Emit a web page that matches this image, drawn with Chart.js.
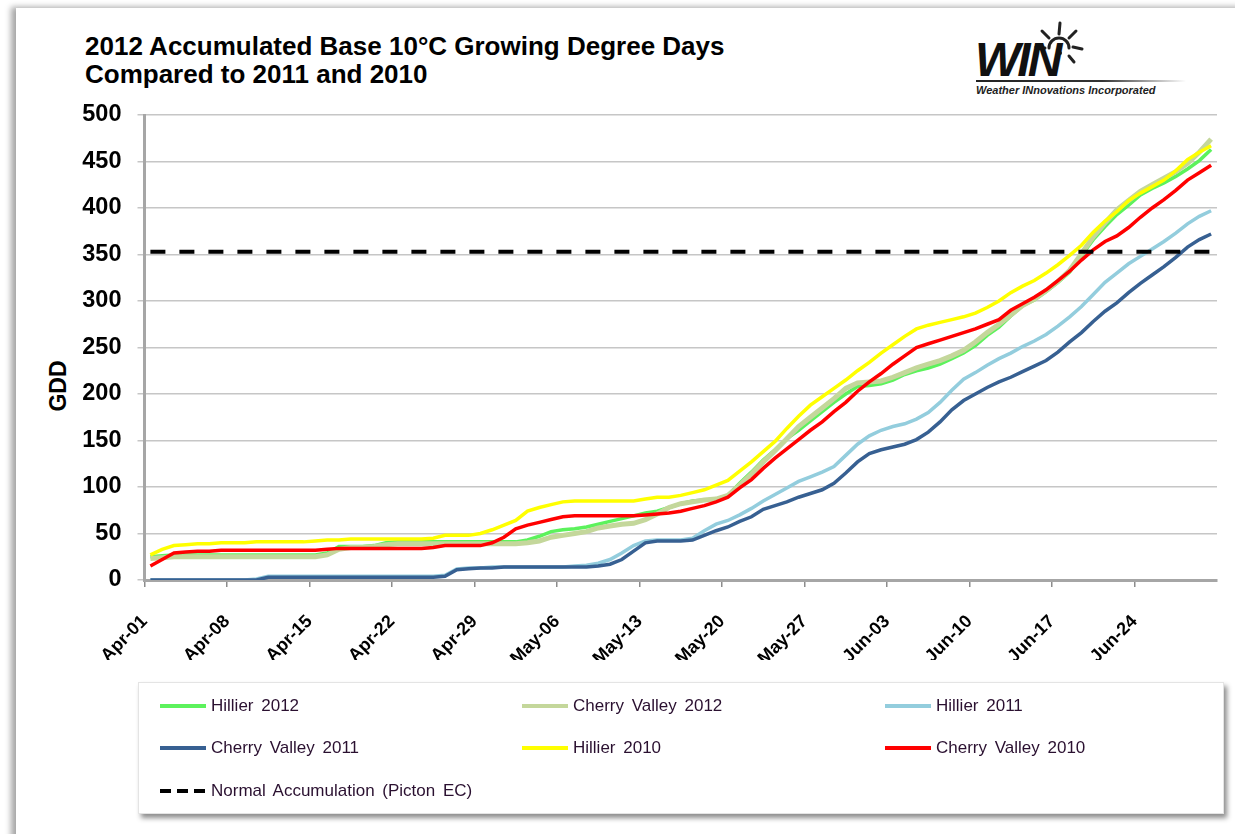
<!DOCTYPE html>
<html>
<head>
<meta charset="utf-8">
<script src="https://cdn.jsdelivr.net/npm/chart.js@4.4.0/dist/chart.umd.min.js"></script>
<style>
  html, body { margin: 0; padding: 0; background: #fff; }
  body { width: 1235px; height: 834px; position: relative; overflow: hidden;
         font-family: Arial, "Liberation Sans", sans-serif; }
  #frame { position: absolute; left: 16px; top: 8px; width: 1230px; height: 840px; background: #fff;
           box-shadow: -5px -1px 6px rgba(0,0,0,0.35); }
  #title { position: absolute; left: 85px; top: 32px; font-weight: bold; font-size: 26px;
           line-height: 28px; color: #000; }
  #gdd { position: absolute; left: 58px; top: 386px; font-weight: bold; font-size: 23px; color: #000;
         transform: translate(-50%, -50%) rotate(-90deg); }
  #wrap { position: absolute; left: 0; top: 0; width: 1235px; height: 700px; }
  #legend { position: absolute; left: 138px; top: 682px; width: 1084px; height: 130px; background: #fff;
            border: 1px solid #e4e4e4; box-shadow: 3px 4px 5px rgba(0,0,0,0.45); }
  .item { position: absolute; height: 20px; font-size: 17px; color: #2a1030; word-spacing: 3px;
          white-space: nowrap; }
  .item span.sw { position: absolute; left: 0; top: 8px; width: 46px; height: 4px; }
  .item span.tx { position: absolute; left: 51px; top: 0; line-height: 20px; }
  #logo { position: absolute; left: 970px; top: 14px; width: 230px; height: 90px; }
  #win { position: absolute; left: 5px; top: 22px; font: italic bold 48px Arial, sans-serif;
         letter-spacing: -3px; color: #111; line-height: 48px; }
  #rule { position: absolute; left: 6px; top: 66px; width: 210px; height: 2px;
          background: linear-gradient(to right, #222 0%, #333 60%, rgba(0,0,0,0) 100%); }
  #sub { position: absolute; left: 6px; top: 70px; font: italic bold 11px Arial, sans-serif; color: #222;
         white-space: nowrap; }
</style>
</head>
<body>
<div id="frame"></div>
<div id="title">2012 Accumulated Base 10°C Growing Degree Days<br>Compared to 2011 and 2010</div>
<div id="logo">
  <svg width="230" height="70" style="position:absolute;left:0;top:0">
    <g stroke="#222" stroke-width="3" stroke-linecap="round" fill="none">
      <path d="M 79 34 A 10 10 0 0 1 99 34" />
      <line x1="89" y1="20" x2="90" y2="9" />
      <line x1="79" y1="24" x2="72" y2="17" />
      <line x1="99" y1="24" x2="106" y2="17" />
      <line x1="75" y1="34" x2="66" y2="33" />
      <line x1="103" y1="33" x2="112" y2="35" />
      <line x1="99" y1="42" x2="104" y2="48" />
    </g>
    <circle cx="90" cy="39" r="2" fill="#222" />
  </svg>
  <div id="win">WIN</div>
  <div id="rule"></div>
  <div id="sub">Weather INnovations Incorporated</div>
</div>
<div id="gdd">GDD</div>
<div id="wrap"><canvas id="chart" width="1235" height="700"></canvas></div>
<div id="legend"></div>

<script>
// x axis: days from Apr-01, one label per day
const months = [['Apr', 30], ['May', 31], ['Jun', 30], ['Jul', 1]];
const dayLabels = [];
months.forEach(([m, n]) => {
  for (let d = 1; d <= n; d++) dayLabels.push(m + '-' + String(d).padStart(2, '0'));
});

// accumulated GDD, one value per day Apr-01 .. Jun-30
const hillier2012 = [
  25,26,27,27,27,27,27,27,27,27,27,27,27,27,27,
  29,36,36,36,37,40,41,41,41,41,41,41,41,41,41,41,41,
  43,47,52,54,55,57,60,63,66,69,72,74,78,82,85,86,87,91,
  104,116,129,140,152,161,171,181,191,200,208,209,211,215,
  221,225,228,232,238,244,252,263,272,284,295,301,310,320,331,349,
  366,380,393,403,414,421,427,434,442,451,463
];
const cherryValley2012 = [
  23,24,25,25,25,25,25,25,25,25,25,25,25,25,25,
  27,33,35,35,36,38,39,39,39,39,39,39,39,39,39,39,39,
  40,42,46,48,50,52,56,58,60,61,65,71,78,82,84,86,87,91,
  102,114,127,139,152,165,175,185,195,206,212,213,214,218,
  223,228,232,236,241,247,256,266,275,285,295,302,311,321,333,351,
  369,384,398,408,418,425,432,439,448,460,474
];
const hillier2011 = [
  0,0,0,0,0,0,0,0,0,1,4,4,4,4,4,
  4,4,4,4,4,4,4,4,4,4,5,12,13,13,14,14,14,
  14,14,14,14,15,16,18,22,29,37,42,43,43,43,45,53,60,64,
  70,77,85,92,99,106,111,116,122,134,146,155,161,165,
  168,173,180,191,204,216,223,231,238,244,251,257,264,273,283,294,
  307,320,330,340,348,356,364,373,383,391,397
];
const cherryValley2011 = [
  0,0,0,0,0,0,0,0,0,0,3,3,3,3,3,
  3,3,3,3,3,3,3,3,3,3,4,11,12,13,13,14,14,
  14,14,14,14,14,14,15,17,22,31,40,42,42,42,43,48,53,57,
  63,68,76,80,84,89,93,97,104,115,127,136,140,143,
  146,151,159,170,183,193,200,207,213,218,224,230,236,245,256,266,
  278,289,298,309,319,328,337,347,358,366,372
];
const hillier2010 = [
  27,33,37,38,39,39,40,40,40,41,41,41,41,41,42,
  43,43,44,44,44,44,44,44,44,45,48,48,48,50,54,59,64,
  74,78,81,84,85,85,85,85,85,85,87,89,89,91,94,97,102,107,
  117,127,138,149,163,176,188,197,206,215,225,234,244,253,
  262,270,274,277,280,283,287,293,300,309,316,322,330,339,349,360,
  374,386,396,408,416,423,430,440,452,460,467
];
const cherryValley2010 = [
  15,22,29,30,31,31,32,32,32,32,32,32,32,32,32,
  33,34,34,34,34,34,34,34,34,35,37,37,37,37,40,46,55,
  59,62,65,68,69,69,69,69,69,69,70,71,72,74,77,80,84,89,
  99,108,120,131,141,151,161,170,181,191,203,213,222,232,
  241,250,254,258,262,266,270,275,280,290,297,304,312,322,332,344,
  355,364,370,379,390,400,409,419,430,438,446
];
const normalAccumulation = 353;

const seriesNames  = ['Hillier 2012', 'Cherry Valley 2012', 'Hillier 2011',
                      'Cherry Valley 2011', 'Hillier 2010', 'Cherry Valley 2010'];
const seriesValues = [hillier2012, cherryValley2012, hillier2011,
                      cherryValley2011, hillier2010, cherryValley2010];
const seriesColors = ['#5cf25c', '#c4d79b', '#93cddd', '#376092', '#ffff00', '#ff0000'];
const seriesWidths = [3.5, 5, 3.5, 3.5, 3.5, 3.5];
const normalName = 'Normal Accumulation (Picton EC)';

const numDays = hillier2012.length;   // 91, axis runs 0..91
const datasets = seriesValues.map((vals, i) => ({
  label: seriesNames[i],
  data: vals.map((v, d) => ({ x: d + 0.5, y: v })),
  borderColor: seriesColors[i],
  borderWidth: seriesWidths[i],
  pointRadius: 0,
  tension: 0,
  fill: false,
  order: seriesNames.length + 1 - i
}));
datasets.push({
  label: normalName,
  data: [{ x: 0.5, y: normalAccumulation }, { x: numDays - 0.5, y: normalAccumulation }],
  borderColor: '#000',
  borderWidth: 4,
  borderDash: [15, 14],
  pointRadius: 0,
  fill: false,
  order: 0
});

const boldFont = size => ({ family: 'Arial, "Liberation Sans", sans-serif', weight: 'bold', size });

new Chart(document.getElementById('chart').getContext('2d'), {
  type: 'line',
  data: { datasets },
  options: {
    responsive: false,
    animation: false,
    layout: { padding: { top: 115, right: 18, left: 0, bottom: 40 } },
    plugins: { legend: { display: false }, tooltip: { enabled: false } },
    scales: {
      x: {
        type: 'linear', min: 0, max: numDays,
        afterFit: s => { s.height = 80; },
        afterBuildTicks: s => { s.ticks = s.ticks.filter(t => t.value < numDays); },
        ticks: {
          stepSize: 7, autoSkip: false, maxRotation: 45, minRotation: 45, padding: 24,
          color: '#000', font: boldFont(18),
          callback: v => dayLabels[v]
        },
        grid: { drawOnChartArea: false, drawTicks: true, tickLength: 7, color: '#8c8c8c', lineWidth: 1.5 },
        border: { color: '#a6a6a6', width: 3 }
      },
      y: {
        min: 0, max: 500,
        afterFit: s => { s.width = 144.5; },
        ticks: { stepSize: 50, padding: 16, color: '#000', font: boldFont(23.5) },
        grid: { color: '#c6c6c6', lineWidth: 1.5, tickLength: 7 },
        border: { color: '#a6a6a6', width: 3 }
      }
    }
  }
});

// legend box, three columns
const legendEl = document.getElementById('legend');
const colX = [21, 383, 746];
const rowY = [13, 55, 98];
function addItem(name, color, col, row, dashed) {
  const it = document.createElement('div');
  it.className = 'item';
  it.style.left = colX[col] + 'px';
  it.style.top = rowY[row] + 'px';
  const sw = dashed
    ? `<span class="sw" style="background:repeating-linear-gradient(to right,#000 0 11px,transparent 11px 17px)"></span>`
    : `<span class="sw" style="background:${color}"></span>`;
  it.innerHTML = sw + `<span class="tx">${name}</span>`;
  legendEl.appendChild(it);
}
seriesNames.forEach((n, i) => addItem(n, seriesColors[i], i % 3, Math.floor(i / 3), false));
addItem(normalName, '#000', 0, 2, true);
</script>
</body>
</html>
